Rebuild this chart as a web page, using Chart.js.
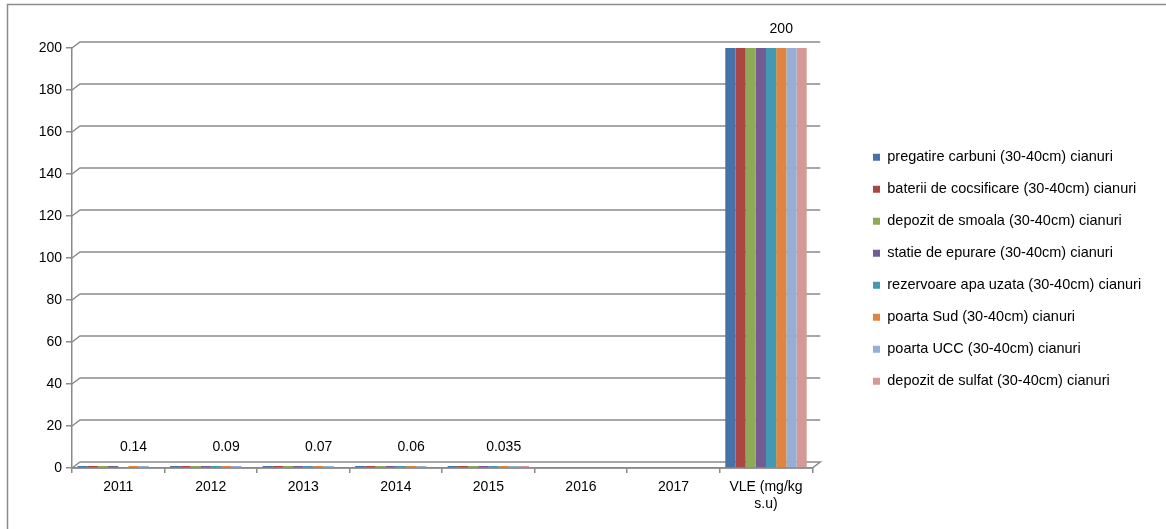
<!DOCTYPE html>
<html><head><meta charset="utf-8">
<script src="https://cdn.jsdelivr.net/npm/chart.js@4.4.0/dist/chart.umd.min.js"></script>
<style>html,body{margin:0;padding:0;background:#fff;overflow:hidden}canvas{display:block}</style>
</head><body>
<canvas id="c" width="1166" height="529"></canvas>
<script>
// ---- data ----
const categories = ['2011', '2012', '2013', '2014', '2015', '2016', '2017', ['VLE (mg/kg', 's.u)']];
const seriesNames = [
  'pregatire carbuni (30-40cm) cianuri',
  'baterii de cocsificare (30-40cm) cianuri',
  'depozit de smoala (30-40cm) cianuri',
  'statie de epurare (30-40cm) cianuri',
  'rezervoare apa uzata (30-40cm) cianuri',
  'poarta Sud (30-40cm) cianuri',
  'poarta UCC (30-40cm) cianuri',
  'depozit de sulfat (30-40cm) cianuri'
];
const pregatireCarbuni   = [0.1, 0.08, 0.06, 0.05, 0.03, null, null, 200];
const bateriiCocsificare = [0.12, 0.07, 0.05, 0.04, 0.03, null, null, 200];
const depozitSmoala      = [0.1, 0.06, 0.05, 0.05, 0.02, null, null, 200];
const statieEpurare      = [0.09, 0.07, 0.06, 0.04, 0.03, null, null, 200];
const rezervoareApa      = [null, 0.05, 0.04, 0.04, 0.02, null, null, 200];
const poartaSud          = [0.14, 0.09, 0.07, 0.06, 0.035, null, null, 200];
const poartaUCC          = [0.11, 0.08, 0.05, 0.05, 0.03, null, null, 200];
const depozitSulfat      = [null, null, null, null, 0.02, null, null, 200];
const seriesValues = [pregatireCarbuni, bateriiCocsificare, depozitSmoala, statieEpurare, rezervoareApa, poartaSud, poartaUCC, depozitSulfat];
const yMin = 0, yMax = 200, yStep = 20;
const labelledSeries = 5; // poarta Sud carries the data labels

// ---- styles ----
const colors = ['#4672AA', '#AA4644', '#8EAA56', '#735B93', '#4399B2', '#E0853F', '#95AED6', '#D49896'];
const gridColor = '#8a8a8a';
const FONT = 'Liberation Sans, Arial, sans-serif';
const FS = 14;
const LFS = 14.5;
const DX = 8, DY = -6;

const framePlugin = {
  id: 'frame',
  beforeDraw(chart) {
    const ctx = chart.ctx;
    ctx.save();
    ctx.strokeStyle = '#8c8c8c';
    ctx.lineWidth = 1.5;
    ctx.beginPath();
    ctx.moveTo(7.5, 600); ctx.lineTo(7.5, 4.5); ctx.lineTo(1200, 4.5);
    ctx.stroke();
    ctx.restore();
  }
};

const grid3dPlugin = {
  id: 'grid3d',
  beforeDatasetsDraw(chart) {
    const ctx = chart.ctx, y = chart.scales.y, a = chart.chartArea;
    ctx.save();
    ctx.strokeStyle = gridColor;
    ctx.lineWidth = 1.5;
    y.ticks.forEach(t => {
      const py = y.getPixelForValue(t.value);
      ctx.beginPath();
      ctx.moveTo(a.left, py);
      ctx.lineTo(a.left + DX, py + DY);
      ctx.lineTo(a.right + DX, py + DY);
      if (t.value === yMin) {
        ctx.lineTo(a.right, py);
        ctx.lineTo(a.left, py);
      }
      ctx.stroke();
    });
    ctx.restore();
  }
};

const dataLabelPlugin = {
  id: 'dlabels',
  afterDatasetsDraw(chart) {
    const ctx = chart.ctx;
    const meta = chart.getDatasetMeta(labelledSeries);
    ctx.save();
    ctx.font = FS + 'px ' + FONT;
    ctx.fillStyle = '#000';
    ctx.textAlign = 'center';
    ctx.textBaseline = 'middle';
    meta.data.forEach((el, i) => {
      const v = seriesValues[labelledSeries][i];
      if (v === null || v === undefined) return;
      ctx.fillText(String(v), el.x, el.y - 19);
    });
    ctx.restore();
  }
};

const legendPosPlugin = {
  id: 'legendPos',
  afterLayout(chart) {
    const lg = chart.legend;
    if (!lg) return;
    const dx = 855.5 - lg.left, dy = 132.5 - lg.top;
    lg.left += dx; lg.top += dy;
    lg.right = 1166; lg.bottom = 529;
  }
};

new Chart(document.getElementById('c'), {
  type: 'bar',
  data: {
    labels: categories,
    datasets: seriesNames.map((n, i) => ({
      label: n,
      data: seriesValues[i],
      backgroundColor: colors[i],
      borderWidth: 0,
      categoryPercentage: 0.88,
      barPercentage: 1,
      minBarLength: 2
    }))
  },
  options: {
    responsive: false,
    animation: false,
    events: [],
    layout: { padding: { top: 48, right: 83, bottom: 0, left: 0 } },
    plugins: {
      tooltip: { enabled: false },
      legend: {
        position: 'right',
        align: 'start',
        labels: {
          boxWidth: 7, boxHeight: 7, padding: 17.5,
          color: '#000',
          font: { family: FONT, size: LFS }
        }
      }
    },
    scales: {
      x: {
        grid: { display: true, offset: true, drawOnChartArea: false, drawTicks: true, tickLength: 5, color: gridColor, lineWidth: 1.5 },
        border: { display: true, color: gridColor, width: 1.5 },
        ticks: { color: '#000', font: { family: FONT, size: FS }, padding: 6, maxRotation: 0, autoSkip: false },
        afterFit(s) { s.height = 61; }
      },
      y: {
        min: yMin, max: yMax,
        grid: { drawOnChartArea: false, tickLength: 6, color: gridColor, lineWidth: 1.5 },
        border: { display: true, color: gridColor, width: 1.5 },
        ticks: { stepSize: yStep, color: '#000', font: { family: FONT, size: FS }, padding: 4 },
        afterFit(s) { s.width = 72; }
      }
    }
  },
  plugins: [framePlugin, grid3dPlugin, dataLabelPlugin, legendPosPlugin]
});
</script>
</body></html>
